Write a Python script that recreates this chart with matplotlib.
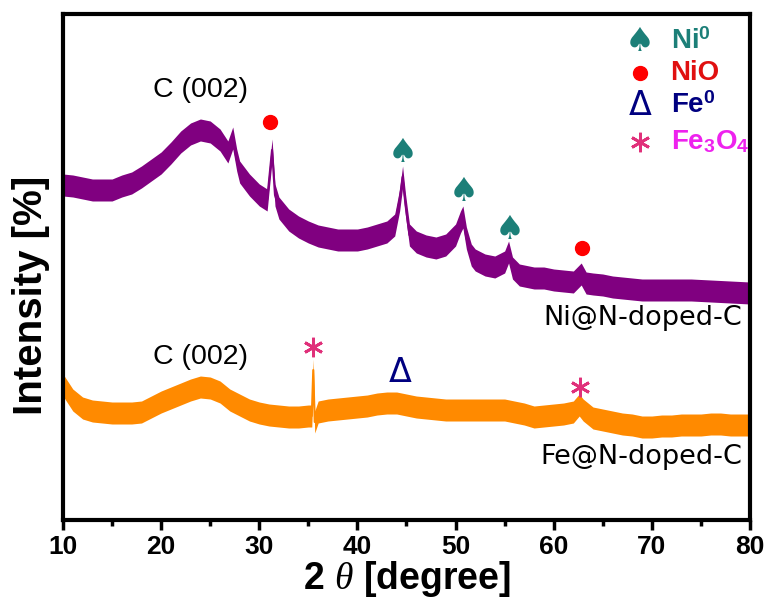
import matplotlib
matplotlib.use("Agg")
import matplotlib.pyplot as plt
from matplotlib.ticker import MultipleLocator

plt.rcParams['font.family'] = ['Liberation Sans', 'DejaVu Sans']
plt.rcParams['mathtext.fontset'] = 'custom'
plt.rcParams['mathtext.rm'] = 'Liberation Sans'
plt.rcParams['mathtext.it'] = 'Liberation Serif:italic'
plt.rcParams['mathtext.bf'] = 'Liberation Sans:bold'

# Ni@N-doped-C pattern (2theta, intensity a.u.)
ni_x = [10, 11, 12, 13, 14, 15, 16, 17, 18, 19, 20, 21, 22, 23, 24, 25, 26, 26.8, 27.3, 27.7,
        28, 29, 30, 30.8, 31.0, 31.3, 31.6, 32, 33, 34, 35, 36, 37, 38, 39, 40, 41, 42, 43, 43.8,
        44.3, 44.6, 44.9, 45.3, 46, 47, 48, 49, 50, 50.5, 50.75, 51.1, 51.6, 52, 53, 54, 55, 55.4,
        55.8, 56.5, 57, 58, 59, 60, 61, 62, 62.8, 63.3, 64, 65, 66, 67, 68, 69, 70, 72, 74, 76, 78, 80]
ni_y = [415, 414, 412, 410, 410, 410, 414, 417, 423, 430, 437, 447, 458, 466, 470, 468, 460, 448, 462, 440,
        428, 415, 405, 400, 420, 450, 405, 392, 380, 373, 368, 364, 362, 360, 360, 360, 362, 365, 368, 375,
        400, 423, 395, 365, 358, 354, 352, 355, 365, 378, 383, 362, 345, 340, 335, 333, 338, 348,
        332, 325, 324, 322, 322, 320, 319, 318, 326, 317, 316, 315, 313, 312, 311, 310, 310, 310, 310, 309, 308, 307]

# Fe@N-doped-C pattern
fe_x = [10, 11, 12, 13, 14, 15, 16, 17, 18, 19, 20, 21, 22, 23, 24, 25, 26, 27, 28, 29, 30, 31, 32, 33,
        34, 35, 35.35, 35.5, 35.65, 36, 37, 38, 39, 40, 41, 42, 43, 44, 45, 46, 47, 48, 49, 50, 51, 52,
        53, 54, 55, 56, 57, 58, 59, 60, 61, 62, 62.6, 63, 64, 65, 66, 67, 68, 69, 70, 71, 72, 73, 74,
        75, 76, 77, 78, 79, 80]
fe_y = [215, 200, 192, 189, 188, 187, 187, 187, 188, 193, 198, 202, 206, 210, 213, 212, 208, 200, 195, 190, 187, 185, 184, 183,
        183, 184, 184, 230, 178, 188, 190, 191, 192, 193, 194, 196, 197, 197, 195, 193, 192, 191, 190, 190, 190, 190,
        190, 190, 190, 188, 186, 183, 184, 185, 186, 188, 195, 190, 182, 180, 178, 176, 175, 173, 173, 174, 174, 175, 175,
        175, 176, 176, 175, 175, 175]
noise = 11  # half-width of the noisy band

# phase markers (2theta, intensity)
ni0_x, ni0_y = [44.6, 50.8, 55.5], [447, 408, 370]
nio_x, nio_y = [31.1, 62.9], [478, 352]
fe0_x, fe0_y = [44.4], [228]
fe3o4_x, fe3o4_y = [35.5, 62.7], [253, 213]

c_purple = '#800080'
c_orange = '#FF8A00'
c_teal = '#1C7F78'
c_red = '#FF0000'
c_navy = '#000080'
c_pink = '#E0307A'
c_magenta = '#EE22EE'

fig = plt.figure(figsize=(7.69, 6), dpi=100)
ax = fig.add_axes([0.0819, 0.1333, 0.8934, 0.8434])

lo = [v - noise for v in ni_y]
hi = [v + noise for v in ni_y]
ax.fill_between(ni_x, lo, hi, color=c_purple, lw=0)
ax.plot(ni_x, ni_y, color=c_purple, lw=1.5)
lo = [v - noise for v in fe_y]
hi = [v + noise for v in fe_y]
ax.fill_between(fe_x, lo, hi, color=c_orange, lw=0)
ax.plot(fe_x, fe_y, color=c_orange, lw=1.5)

spade = dict(color=c_teal, fontsize=24, ha='center', va='center', family='DejaVu Sans')
delta = dict(color=c_navy, fontsize=24, ha='center', va='center', family='DejaVu Sans')
for x, y in zip(ni0_x, ni0_y):
    ax.text(x, y, '\u2660', **spade)
ax.plot(nio_x, nio_y, 'o', color=c_red, ms=10, ls='none')
for x, y in zip(fe0_x, fe0_y):
    ax.text(x, y, '\u0394', **delta)
ax.plot(fe3o4_x, fe3o4_y, marker=(6, 2, 0), color=c_pink, ms=14, mew=2, ls='none')

# annotations
ax.text(24, 510, 'C (002)', fontsize=20.5, ha='center', va='center')
ax.text(24, 243, 'C (002)', fontsize=20.5, ha='center', va='center')
ax.text(79.2, 282, 'Ni@N-doped-C', fontsize=19.5, ha='right', va='center', family='DejaVu Sans')
ax.text(79.2, 143, 'Fe@N-doped-C', fontsize=19.5, ha='right', va='center', family='DejaVu Sans')

# legend
lx, tx = 68.8, 71.9
ax.text(lx, 558, '\u2660', **spade)
ax.text(tx, 558, r'Ni$^\mathbf{0}$', color=c_teal, fontsize=20, fontweight='bold', va='center')
ax.plot([lx], [527], 'o', color=c_red, ms=10)
ax.text(tx, 527, 'NiO', color='#E01010', fontsize=20, fontweight='bold', va='center')
ax.text(lx, 494, '\u0394', **delta)
ax.text(tx, 494, r'Fe$^\mathbf{0}$', color=c_navy, fontsize=20, fontweight='bold', va='center')
ax.plot([lx], [458], marker=(6, 2, 0), color=c_pink, ms=14, mew=2)
ax.text(tx, 458, r'Fe$_\mathbf{3}$O$_\mathbf{4}$', color=c_magenta, fontsize=20, fontweight='bold', va='center')

ax.set_xlim(10, 80)
ax.set_ylim(80, 586)
ax.set_yticks([])
ax.xaxis.set_major_locator(MultipleLocator(10))
ax.xaxis.set_minor_locator(MultipleLocator(5))
ax.tick_params(axis='x', which='major', direction='out', length=7, width=2.5, labelsize=19, pad=4)
ax.tick_params(axis='x', which='minor', direction='out', length=4, width=2.5)
for lab in ax.get_xticklabels():
    lab.set_fontweight('bold')
for s in ax.spines.values():
    s.set_linewidth(3)

ax.set_xlabel(r'2 $\theta$ [degree]', fontsize=27, fontweight='bold', labelpad=0)
ax.set_ylabel('Intensity [%]', fontsize=29, fontweight='bold', va='center')
ax.yaxis.set_label_coords(-0.046, 0.443)

fig.savefig('out.png', dpi=100)
